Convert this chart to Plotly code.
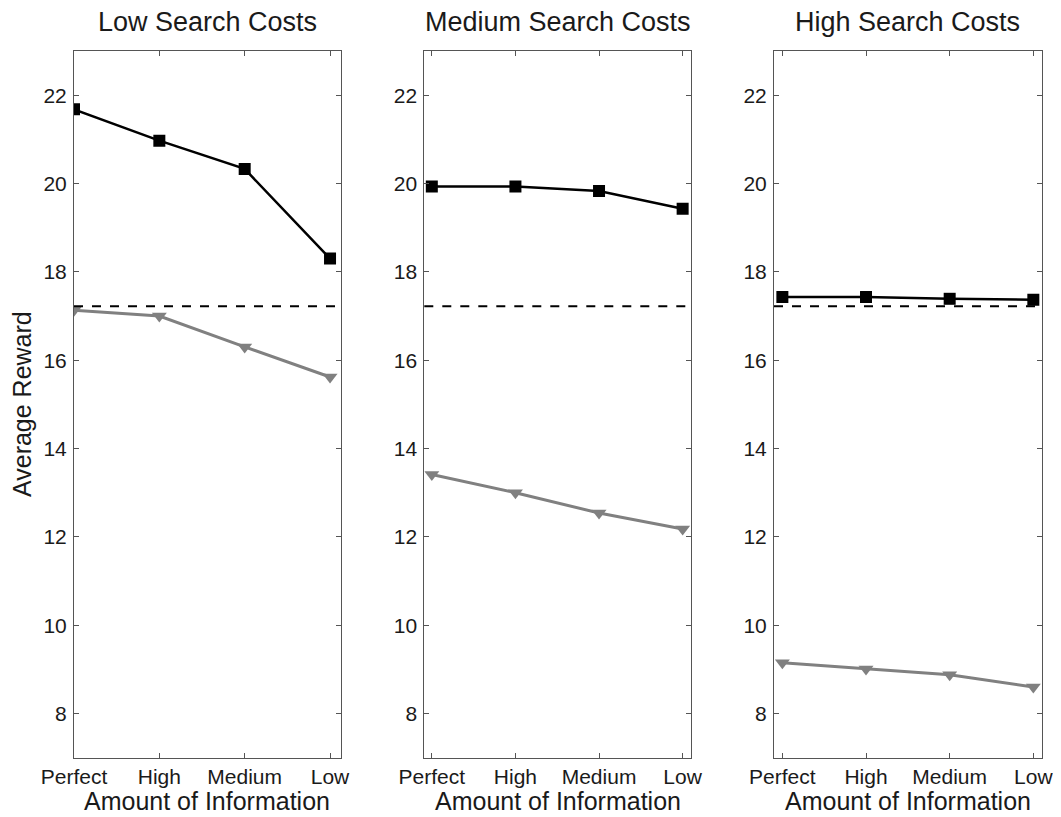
import plotly.graph_objects as go
from plotly.subplots import make_subplots

# categories on the x axis
info_levels = ["Perfect", "High", "Medium", "Low"]
x_pos = [1, 2, 3, 4]

panel_titles = ["Low Search Costs", "Medium Search Costs", "High Search Costs"]

# black squares (upper series) per panel
low_cost_top = [21.68, 20.97, 20.33, 18.30]
medium_cost_top = [19.93, 19.93, 19.83, 19.43]
high_cost_top = [17.43, 17.43, 17.39, 17.37]

# grey triangles (lower series) per panel
low_cost_bottom = [17.13, 17.00, 16.30, 15.62]
medium_cost_bottom = [13.41, 13.00, 12.54, 12.18]
high_cost_bottom = [9.15, 9.01, 8.88, 8.60]

# dashed reference level
baseline = 17.22

y_ticks = [8, 10, 12, 14, 16, 18, 20, 22]

top_series = [low_cost_top, medium_cost_top, high_cost_top]
bottom_series = [low_cost_bottom, medium_cost_bottom, high_cost_bottom]

FONT = "Liberation Sans, Arial, sans-serif"
TXT = "#1a1a1a"

fig = make_subplots(rows=1, cols=3)

for i in range(3):
    col = i + 1
    fig.add_trace(go.Scatter(
        x=x_pos, y=bottom_series[i], mode="lines+markers",
        line=dict(color="#808080", width=3),
        marker=dict(symbol="triangle-down", size=13, color="#808080"),
        showlegend=False), row=1, col=col)
    fig.add_trace(go.Scatter(
        x=x_pos, y=top_series[i], mode="lines+markers",
        line=dict(color="black", width=2.5),
        marker=dict(symbol="square", size=12, color="black"),
        showlegend=False), row=1, col=col)
    fig.add_hline(y=baseline, line=dict(color="black", width=2, dash="dash"),
                  row=1, col=col)

# page body has an 8px margin, so the figure starts at (8, 8)
OFF = 8
W, H = 1061 - OFF, 817 - OFF
x_domains = [(74, 340.7), (424.3, 691), (774, 1041.7)]
x_ranges = [[1, 4.125], [0.91, 4.1], [0.9, 4.1]]
y_dom = [1 - (757.7 - OFF) / H, 1 - (51 - OFF) / H]

axis_common = dict(
    showline=True, linecolor="#555", linewidth=1, mirror="ticks",
    ticks="inside", ticklen=5, tickcolor="#555", showgrid=False, zeroline=False,
    automargin=False,
    tickfont=dict(family=FONT, size=21, color=TXT),
)

layout = dict(
    width=W, height=H,
    margin=dict(l=0, r=0, t=0, b=0),
    paper_bgcolor="white", plot_bgcolor="white",
    font=dict(family=FONT, color=TXT),
)

for i in range(3):
    sfx = "" if i == 0 else str(i + 1)
    xd = [(x_domains[i][0] - OFF) / W, (x_domains[i][1] - OFF) / W]
    layout["xaxis" + sfx] = dict(
        axis_common, domain=xd, range=x_ranges[i],
        tickmode="array", tickvals=x_pos, ticktext=info_levels,
    )
    layout["yaxis" + sfx] = dict(axis_common, domain=y_dom, range=[7, 23],
                                 tickmode="array", tickvals=y_ticks, ticklabelstandoff=2)

fig.update_layout(**layout)

ann = dict(xref="paper", yref="paper", showarrow=False,
           xanchor="center", yanchor="middle")
for i in range(3):
    cx = ((x_domains[i][0] + x_domains[i][1]) / 2 - OFF) / W
    fig.add_annotation(text=panel_titles[i], x=cx, y=1 - (22 - OFF) / H,
                       font=dict(family=FONT, size=27, color=TXT), **ann)
    fig.add_annotation(text="Amount of Information", x=cx, y=1 - (801 - OFF) / H,
                       font=dict(family=FONT, size=25, color=TXT), **ann)

fig.add_annotation(text="Average Reward", x=(22 - OFF) / W, y=1 - (404 - OFF) / H,
                   textangle=-90, font=dict(family=FONT, size=25, color=TXT), **ann)

fig.write_html("out.html")
